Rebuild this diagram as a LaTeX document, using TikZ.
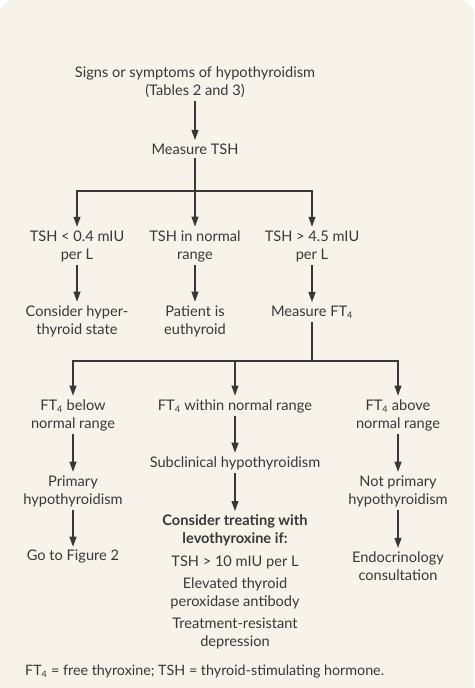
\documentclass[tikz,border=0pt]{standalone}
\usepackage{fontspec}
\setmainfont{Lato}
\usetikzlibrary{arrows.meta}
\definecolor{paper}{HTML}{F7F2EA}
\definecolor{ink}{HTML}{383838}
\newcommand{\ftfour}{FT\textsubscript{\fontsize{9}{9}\selectfont 4}}
\tikzset{
  txt/.style={align=center, text=ink, inner sep=3.5pt, font=\fontsize{14.6}{18}\selectfont},
  arr/.style={draw=ink, line width=1.1pt, -{Triangle[length=10pt,width=7pt]}},
  ln/.style={draw=ink, line width=1.1pt}
}
\begin{document}
\begin{tikzpicture}[x=1pt,y=-1pt]
\useasboundingbox (0,0) rectangle (474,688);
\fill[paper, rounded corners=14pt] (0,720) -- (0,0) -- (474,0) -- (474,720) -- cycle; % bottom corners fall off the page
% first level
\node[txt] (signs) at (195,82) {Signs or symptoms of hypothyroidism\\(Tables 2 and 3)};
\node[txt] (tsh) at (195,149) {Measure TSH};
\coordinate (split1) at (195,191);
\node[txt] (low) at (77,246) {TSH < 0.4 mIU\\per L};
\node[txt] (normal) at (195,246) {TSH in normal\\range};
\node[txt] (high) at (312,246) {TSH > 4.5 mIU\\per L};
\node[txt] (hyper) at (77,321) {Consider hyper-\\thyroid state};
\node[txt] (euthyroid) at (195,321) {Patient is\\euthyroid};
\node[txt] (ft4) at (312,312) {Measure \ftfour};
% second level
\coordinate (split2) at (312,361);
\node[txt] (below) at (73,415) {\ftfour{} below\\normal range};
\node[txt] (within) at (235,406) {\ftfour{} within normal range};
\node[txt] (above) at (398,415) {\ftfour{} above\\normal range};
\node[txt] (primary) at (73,491) {Primary\\hypothyroidism};
\node[txt] (subclin) at (235,463) {Subclinical hypothyroidism};
\node[txt] (notprim) at (398,491) {Not primary\\hypothyroidism};
\node[txt] (fig2) at (73,557) {Go to Figure 2};
\node[txt, anchor=north] (treat) at (235,511) {\bfseries Consider treating with\\\bfseries levothyroxine if:\\[5pt]
  TSH > 10 mIU per L\\[4pt] Elevated thyroid\\peroxidase antibody\\[4pt] Treatment-resistant\\depression};
\node[txt] (endo) at (398,566) {Endocrinology\\consultation};
\node[txt, anchor=base west, inner sep=0pt, font=\fontsize{14.3}{16}\selectfont] (note) at (25,675) {\ftfour{} = free thyroxine; TSH = thyroid-stimulating hormone.};
% connectors
\draw[arr] (signs) -- (tsh);
\draw[ln] (tsh) -- (split1);
\draw[arr] (split1) -| (low);
\draw[arr] (split1) -- (normal);
\draw[arr] (split1) -| (high);
\draw[arr] (low) -- (hyper);
\draw[arr] (normal) -- (euthyroid);
\draw[arr] (high) -- (ft4);
\draw[ln] (ft4) -- (split2);
\draw[arr] (split2) -| (below);
\draw[arr] (split2) -| (within);
\draw[arr] (split2) -| (above);
\draw[arr] (below) -- (primary);
\draw[arr] (primary) -- (fig2);
\draw[arr] (within) -- (subclin);
\draw[arr] (subclin) -- (treat);
\draw[arr] (above) -- (notprim);
\draw[arr] (notprim) -- (endo);
\end{tikzpicture}
\end{document}
